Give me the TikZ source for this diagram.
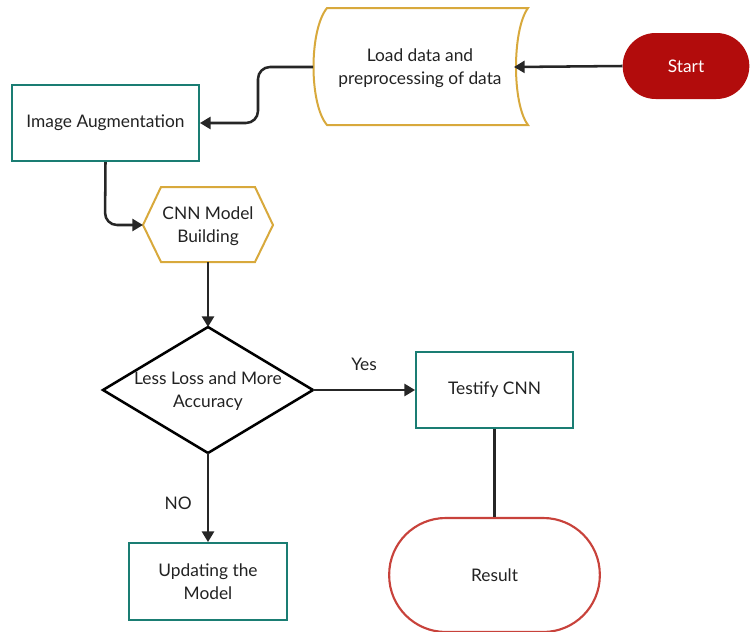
\documentclass[tikz,border=0pt]{standalone}
\usepackage{fontspec}
\setmainfont{Lato}
\usetikzlibrary{arrows.meta}
\definecolor{teal1}{HTML}{1A7D73}
\definecolor{gold1}{HTML}{D8A93C}
\definecolor{startred}{HTML}{B20C0C}
\definecolor{resred}{HTML}{C8423B}
\definecolor{txt}{HTML}{222222}
\begin{document}
\begin{tikzpicture}[x=0.75pt,y=-0.75pt,
  every node/.style={font=\fontsize{13}{17}\selectfont, text=txt, align=center},
  tealbox/.style={draw=teal1, line width=1.6pt, fill=white, inner sep=0pt},
  conn/.style={draw=black!85, line width=1.9pt, rounded corners=9pt},
  arr/.style={conn, -{Triangle[length=8pt,width=9pt]}}]
\useasboundingbox (0,0) rectangle (750,632);

% Start
\node[fill=startred, rounded corners=24.7pt, minimum width=95pt, minimum height=49.5pt, text=white, inner sep=0pt] (start) at (686,66) {Start};

% Load data shape
\draw[gold1, line width=1.5pt, fill=white] (327,8) -- (528,8) .. controls (512,30) and (512,104) .. (528,125) -- (327,125) .. controls (309,104) and (309,30) .. (327,8) -- cycle;
\coordinate (loadL) at (313,67);
\coordinate (loadR) at (514,67);
\node (load) at (420,68) {Load data and\\preprocessing of data};

% Image Augmentation
\node[tealbox, minimum width=140pt, minimum height=57pt] (aug) at (105.5,123) {Image Augmentation};

% CNN hexagon
\draw[gold1, line width=1.5pt, fill=white] (143,225) -- (161,187) -- (255,187) -- (273,225) -- (255,262) -- (161,262) -- cycle;
\coordinate (cnnL) at (143,225);
\coordinate (cnnB) at (208,262);
\node (cnn) at (208,226) {CNN Model\\Building};

% Diamond
\draw[black, line width=1.9pt, fill=white] (208,327) -- (313,390) -- (208,453) -- (103,390) -- cycle;
\coordinate (dT) at (208,327);
\coordinate (dR) at (313,390);
\coordinate (dB) at (208,453);
\node (dec) at (208,391) {Less Loss and More\\Accuracy};

% Testify CNN
\node[tealbox, minimum width=117.5pt, minimum height=57pt] (test) at (494.5,390) {Testify CNN};

% Result
\node[draw=resred, line width=1.6pt, fill=white, rounded corners=42.5pt, minimum width=158pt, minimum height=85.5pt, inner sep=0pt] (res) at (494.5,575) {Result};

% Updating the Model
\node[tealbox, minimum width=118.5pt, minimum height=57.5pt] (upd) at (208,581.5) {Updating the\\Model};

% Connectors
\draw[arr] (start.west) -- (loadR);
\draw[arr] (loadL) -- (258,67) -- (258,123) -- (aug.east);
\draw[arr] (aug.south) -- (105,225) -- (cnnL);
\draw[arr] (cnnB) -- (dT);
\draw[arr] (dR) -- node[above=10pt] {Yes} (test.west);
\draw[conn] (test.south) -- (res.north);
\draw[arr] (dB) -- node[left=8pt, pos=0.56] {NO} (upd.north);
\end{tikzpicture}
\end{document}
